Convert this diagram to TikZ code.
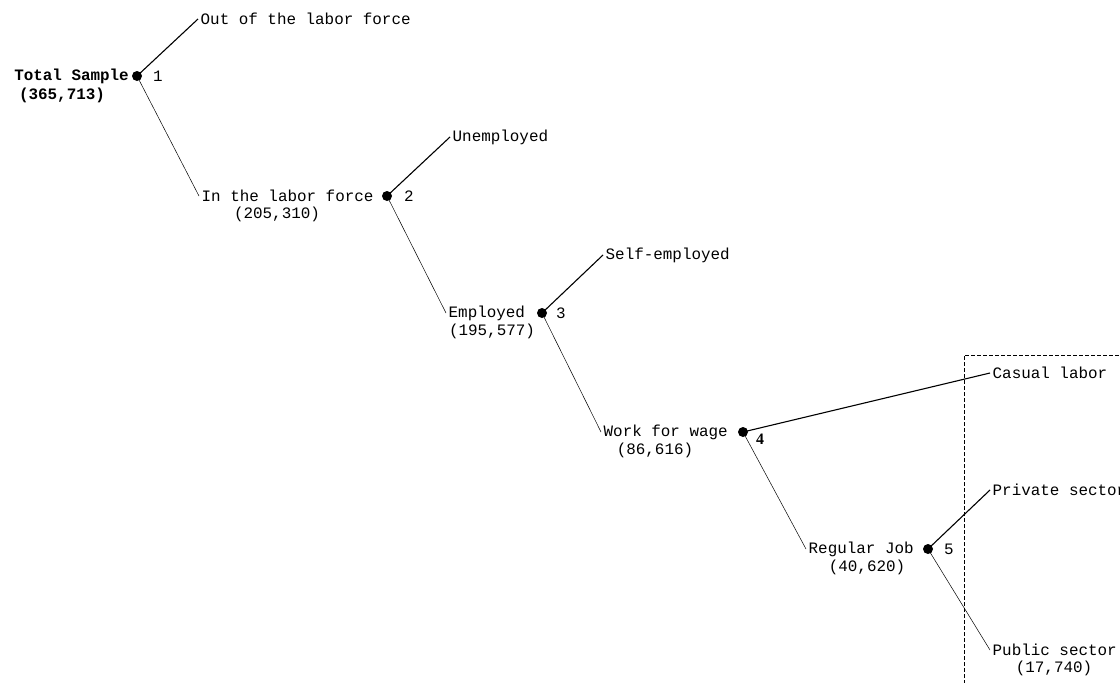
\documentclass[tikz,border=0pt]{standalone}
\usepackage{fontspec}
\setmonofont{Liberation Mono}
\newfontfamily\serifb{Liberation Serif}
\begin{document}
\begin{tikzpicture}[x=1pt,y=-1pt,
  every node/.style={font=\ttfamily\fontsize{15.9}{18}\selectfont, inner sep=0pt},
  lbl/.style={anchor=west, inner sep=2.5pt},
  dot/.style={circle, fill=black, minimum size=10pt, inner sep=0pt},
  up/.style={line width=1.1pt},
  dn/.style={line width=0.5pt},
  num/.style={anchor=center}]
\clip (0,0) rectangle (1120,683);
\useasboundingbox (0,0) rectangle (1120,683);
% level 1
\node[dot] (d1) at (137,76) {};
\node[anchor=east, font=\ttfamily\bfseries\fontsize{15.9}{18}\selectfont] (ts) at (129,76) {Total Sample};
\node[font=\ttfamily\bfseries\fontsize{15.9}{18}\selectfont] (tsn) at (62,95) {(365,713)};
\node[num] (n1) at (158,76) {1};
\node[lbl] (out) at (198,19) {Out of the labor force};
\node[lbl] (inlf) at (199,196) {In the labor force};
\node (inlfn) at (277,214) {(205,310)};
% level 2
\node[dot] (d2) at (387,196) {};
\node[num] (n2) at (409,196) {2};
\node[lbl] (unemp) at (450,137) {Unemployed};
\node[lbl] (emp) at (446,313) {Employed};
\node (empn) at (492,331) {(195,577)};
% level 3
\node[dot] (d3) at (542,313) {};
\node[num] (n3) at (561,313) {3};
\node[lbl] (self) at (603,255) {Self-employed};
\node[lbl] (wage) at (601,432) {Work for wage};
\node (wagen) at (655,450) {(86,616)};
% level 4
\node[dot] (d4) at (743,432) {};
\node[num, font=\serifb\bfseries\fontsize{15.9}{18}\selectfont] (n4) at (760,439) {4};
\node[lbl] (casual) at (990,373) {Casual labor};
\node[lbl] (reg) at (806,549) {Regular Job};
\node (regn) at (867,567) {(40,620)};
% level 5
\node[dot] (d5) at (928,549) {};
\node[num] (n5) at (949,549) {5};
\node[lbl] (priv) at (990,490) {Private sector};
\node[lbl] (pub) at (990,650) {Public sector};
\node (pubn) at (1054,668) {(17,740)};
% connectors
\draw[up] (d1.center) -- (out.west);
\draw[dn] (d1.center) -- (inlf.west);
\draw[up] (d2.center) -- (unemp.west);
\draw[dn] (d2.center) -- (emp.west);
\draw[up] (d3.center) -- (self.west);
\draw[dn] (d3.center) -- (wage.west);
\draw[up] (d4.center) -- (casual.west);
\draw[dn] (d4.center) -- (reg.west);
\draw[up] (d5.center) -- (priv.west);
\draw[dn] (d5.center) -- (pub.west);
% dashed region
\draw[dash pattern=on 4pt off 2pt, line width=0.7pt] (964,690) -- (964,355) -- (1125,355);
\end{tikzpicture}
\end{document}
